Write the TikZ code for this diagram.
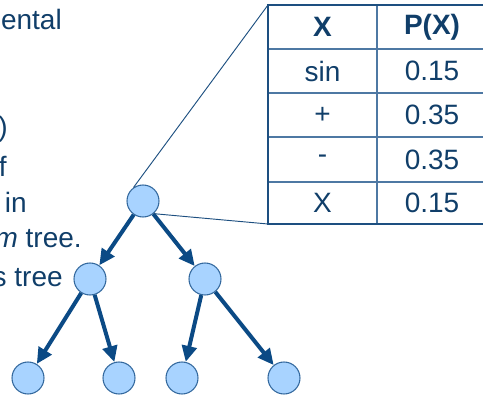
\documentclass[tikz,border=0pt]{standalone}
\usepackage{fontspec}
\setmainfont{Liberation Sans}
\usetikzlibrary{arrows.meta}
\definecolor{GpInk}{HTML}{103E69}
\definecolor{GpArrow}{HTML}{0B4A85}
\definecolor{GpFrame}{HTML}{1D4F80}
\definecolor{GpRule}{HTML}{4E78A3}
\definecolor{GpFill}{HTML}{A8D3FF}
\definecolor{GpEdge}{HTML}{34699E}

\begin{document}
\begin{tikzpicture}[x=0.75pt,y=0.75pt,font=\fontsize{21}{25}\selectfont,text=GpInk,
    slidetext/.style={anchor=base east,inner sep=0pt},
    vertex/.style={circle,draw=GpEdge,fill=GpFill,line width=0.8pt,minimum size=24pt,inner sep=0pt},
    branch/.style={-{Triangle[length=12pt,width=11pt]},line width=3pt,draw=GpArrow},
    zoomline/.style={draw=GpFrame,line width=0.7pt},
    cell/.style={anchor=center,inner sep=0pt,font=\fontsize{21}{25}\selectfont},
    head/.style={cell,font=\fontsize{21}{25}\selectfont\bfseries}]
        \useasboundingbox (0,0) rectangle (483,396);
        \clip (0,0) rectangle (483,396);

        % slide text, cut at the left edge
        \node[slidetext] (t1) at (62,366) {ental};
        \node[slidetext] (t2) at (8,259) {)};
        \node[slidetext] (t3) at (7,219) {f};
        \node[slidetext] (t4) at (27,183) {in};
        \node[slidetext] (t5) at (82,148) {{\itshape m} tree.};
        \node[slidetext] (t6) at (63,109) {s tree};

        % probability table
        \draw[GpRule,line width=1.1pt] (377,172) -- (377,391);
        \foreach \y in {347,303,259,214}
          \draw[GpRule,line width=1.1pt] (268,\y) -- (487,\y);
        \draw[GpFrame,line width=2.2pt] (268,172) rectangle (487,391);
        \coordinate (tabNW) at (268,391);
        \coordinate (tabSW) at (268,172);

        \node[head] (hx) at (322.5,369) {X};
        \node[head] (hp) at (432,369) {P(X)};
        \node[cell] (x1) at (322.5,325) {sin};
        \node[cell] (p1) at (432,325) {0.15};
        \node[cell] (x2) at (322.5,281) {+};
        \node[cell] (p2) at (432,281) {0.35};
        \node[cell] (x3) at (322.5,236.5) {-};
        \node[cell] (p3) at (432,236.5) {0.35};
        \node[cell] (x4) at (322.5,193) {X};
        \node[cell] (p4) at (432,193) {0.15};

        % tree
        \node[vertex] (root) at (143,195) {};
        \node[vertex] (l) at (90,117) {};
        \node[vertex] (r) at (205,117) {};
        \node[vertex] (ll) at (28,18) {};
        \node[vertex] (lr) at (119,18) {};
        \node[vertex] (rl) at (182,18) {};
        \node[vertex] (rr) at (284,18) {};

        \draw[branch] (root) -- (l);
        \draw[branch] (root) -- (r);
        \draw[branch] (l) -- (ll);
        \draw[branch] (l) -- (lr);
        \draw[branch] (r) -- (rl);
        \draw[branch] (r) -- (rr);

        \draw[zoomline] (root.125) -- (tabNW);
        \draw[zoomline] (root.-50) -- (tabSW);
      \end{tikzpicture}
\end{document}
